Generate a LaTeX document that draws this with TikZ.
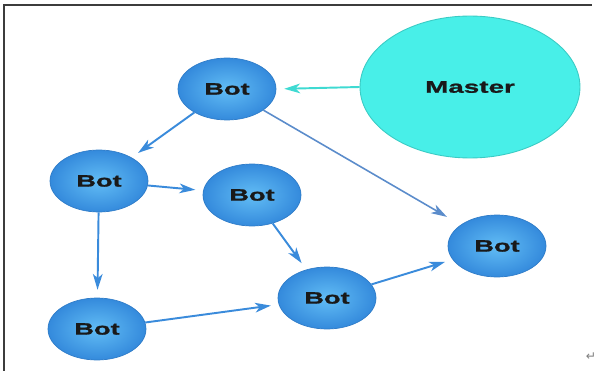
\documentclass[tikz,border=0pt]{standalone}
\usepackage{fontspec}
\setmainfont{Liberation Sans}
\newfontfamily\nodefont[FakeStretch=1.65,FakeBold=1.2]{Liberation Sans}
\newfontfamily\markfont{DejaVu Sans}
\usepackage{tikz}
\usetikzlibrary{shapes.geometric,arrows.meta}

\definecolor{botlight}{HTML}{62BDF5}
\definecolor{botdark}{HTML}{348ADC}
\definecolor{botedge}{HTML}{2F7CC8}
\definecolor{masterfill}{HTML}{48EFE8}
\definecolor{masteredge}{HTML}{3ACBC4}
\definecolor{linkblue}{HTML}{3A8BDB}
\definecolor{linkgray}{HTML}{5B8CCB}
\definecolor{linkcyan}{HTML}{3FDAD2}
\definecolor{framegray}{HTML}{3C3C3C}

\begin{document}
\begin{tikzpicture}[x=0.02cm,y=-0.02cm,
  bot/.style={ellipse,minimum width=1.96cm,minimum height=1.24cm,inner sep=0pt,
    draw=botedge,line width=0.4pt,inner color=botlight,outer color=botdark,
    text=black!90,font=\nodefont\bfseries\fontsize{9.4}{10}\selectfont},
  master/.style={ellipse,minimum width=4.4cm,minimum height=2.84cm,inner sep=0pt,
    draw=masteredge,line width=0.5pt,fill=masterfill,
    text=black!90,font=\nodefont\bfseries\fontsize{9.6}{10}\selectfont},
  link/.style={draw=linkblue,line width=1.1pt,
    -{Stealth[length=9pt,width=5.5pt,inset=2.5pt]},shorten >=4.5pt}]
\useasboundingbox (0,0) rectangle (601,371);
% page frame (top and left edge only)
\draw[framegray,line width=1.1pt] (4,371) -- (4,5) -- (592,5);
% master and bots, pixel positions from the screenshot
\node[master] (master) at (470,87) {Master};
\node[bot] (b1) at (227,89) {Bot};
\node[bot] (b2) at (99,181) {Bot};
\node[bot] (b3) at (252,195) {Bot};
\node[bot] (b4) at (497,246) {Bot};
\node[bot] (b5) at (327,298) {Bot};
\node[bot] (b6) at (97,329) {Bot};
% command flow
\draw[link,draw=linkcyan] (master.west) -- (b1.east);
\draw[link] (b1) -- (b2);
\draw[link,draw=linkgray,line width=0.9pt,shorten >=9pt] (b1) -- (b4);
\draw[link] (b2) -- (b3);
\draw[link] (b2) -- (b6);
\draw[link] (b3) -- (b5);
\draw[link] (b6) -- (b5);
\draw[link] (b5) -- (b4);
\node[font=\markfont\fontsize{7}{8}\selectfont,text=gray] (mark) at (591,357) {↵};
\end{tikzpicture}
\end{document}
